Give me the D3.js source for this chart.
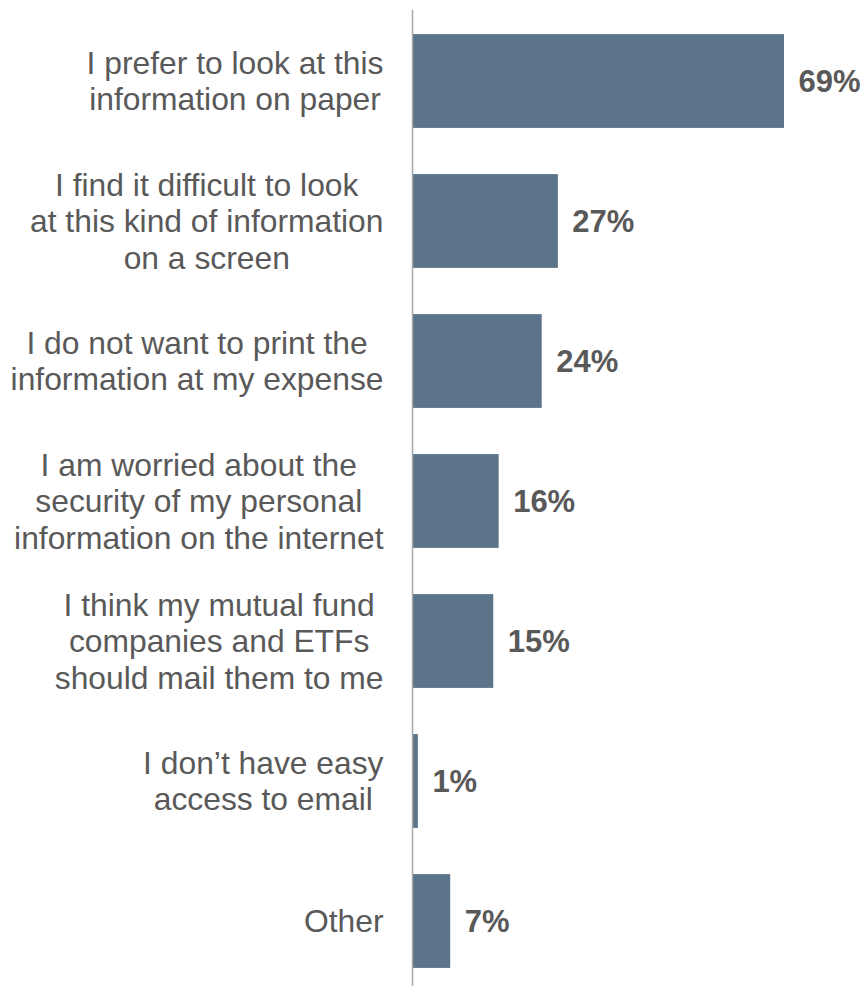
<!DOCTYPE html>
<html>
<head>
<meta charset="utf-8">
<script src="https://cdn.jsdelivr.net/npm/d3@7"></script>
<style>
  html, body { margin: 0; padding: 0; background: #fff; }
  svg { display: block; }
</style>
</head>
<body>
<svg id="chart" width="866" height="986"></svg>
<script>
// Reasons for preferring paper documents (% of respondents)
const categories = [
  ["I prefer to look at this", "information on paper"],
  ["I find it difficult to look", "at this kind of information", "on a screen"],
  ["I do not want to print the", "information at my expense"],
  ["I am worried about the", "security of my personal", "information on the internet"],
  ["I think my mutual fund", "companies and ETFs", "should mail them to me"],
  ["I don\u2019t have easy", "access to email "],
  ["Other"]
];
const values = [69, 27, 24, 16, 15, 1, 7];
const valueLabels = ["69%", "27%", "24%", "16%", "15%", "1%", "7%"];

const svg = d3.select("#chart");
const W = 866, H = 986;
const axisX = 412.5;
const barColor = "#5b7489";
const textColor = "#595959";
const fontFamily = "'Liberation Sans', Arial, Helvetica, sans-serif";

const ids = d3.range(categories.length);
const y = d3.scaleBand()
  .domain(ids)
  .range([11, 991])
  .paddingInner(0.33)
  .paddingOuter(0.165);

const x = d3.scaleLinear()
  .domain([0, 69])
  .range([axisX, 784]);

// bars
svg.append("g")
  .selectAll("rect")
  .data(values)
  .join("rect")
  .attr("x", x(0))
  .attr("y", (d, i) => y(i))
  .attr("width", d => x(d) - x(0))
  .attr("height", y.bandwidth())
  .attr("fill", barColor);

// vertical axis line
svg.append("line")
  .attr("x1", axisX).attr("x2", axisX)
  .attr("y1", 10).attr("y2", H)
  .attr("stroke", "#a6a6a6")
  .attr("stroke-width", 1.5);

// value labels
svg.append("g")
  .selectAll("text")
  .data(values)
  .join("text")
  .attr("x", d => x(d) + 14.5)
  .attr("y", (d, i) => y(i) + y.bandwidth() / 2)
  .attr("dy", "0.35em")
  .attr("font-family", fontFamily)
  .attr("font-size", 31)
  .attr("font-weight", "bold")
  .attr("fill", textColor)
  .text((d, i) => valueLabels[i]);

// category labels: centred multi-line blocks, right-aligned against the axis
const lineH = 36.5;
const labelRight = 383.5;
const labels = svg.append("g");
categories.forEach((lines, i) => {
  const cy = y(i) + y.bandwidth() / 2;
  const t = labels.append("text")
    .attr("font-family", fontFamily)
    .attr("font-size", 31.8)
    .attr("fill", textColor)
    .attr("text-anchor", "middle");
  const spans = lines.map((s, k) => t.append("tspan")
    .attr("y", cy + (k - (lines.length - 1) / 2) * lineH)
    .attr("dy", "0.35em")
    .text(s));
  const maxW = d3.max(spans, sp => sp.node().getComputedTextLength());
  spans.forEach(sp => sp.attr("x", labelRight - maxW / 2));
});
</script>
</body>
</html>
